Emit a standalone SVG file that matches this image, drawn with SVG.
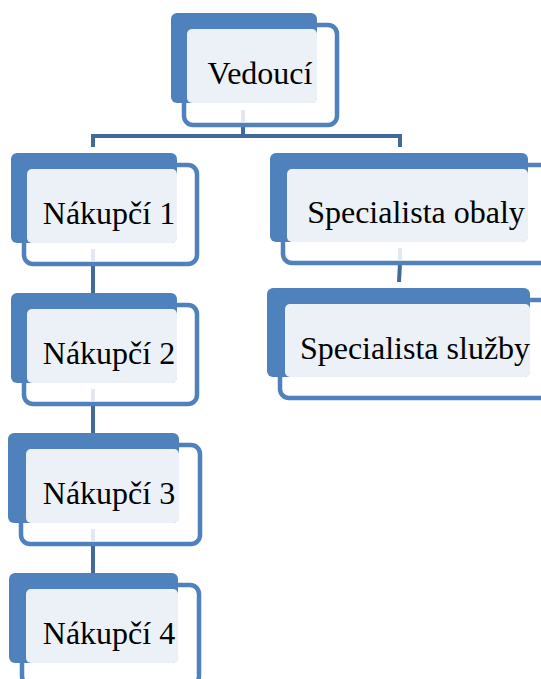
<svg xmlns="http://www.w3.org/2000/svg" width="541" height="679" viewBox="0 0 541 679">
<style>
.back{fill:#4F81BD}
.fill{fill:#ECF0F7}
.out{fill:none;stroke:#4F81BD;stroke-width:4.5}
.ghost{stroke:#E2E7F0;stroke-width:4}
.conn{fill:none;stroke:#41699B;stroke-width:4;stroke-linecap:butt}
text{font-family:"Liberation Serif","Times New Roman",serif;font-size:32px;fill:#000;text-anchor:middle}
</style>
<rect width="541" height="679" fill="#fff"/>
<g id="connectors">
<path class="conn" d="M243,125 V136 M91,136 H402 M93,134 V147 M400,134 V147"/>
<path class="conn" d="M93,264 V293 M93,404 V433 M93,544 V573"/>
<path class="conn" d="M400,263 L399,282"/>
</g>
<g id="vedouci">
<rect class="back" x="171" y="13" width="146" height="90" rx="6"/>
<rect class="fill" x="187" y="29" width="130" height="74" rx="5"/>
<line class="ghost" x1="243" y1="110" x2="243" y2="122"/>
<rect class="out" x="184" y="25" width="153" height="100" rx="9"/>
<text x="260" y="84">Vedoucí</text>
</g>
<g id="nakupci1">
<rect class="back" x="11" y="153" width="166" height="90" rx="6"/>
<rect class="fill" x="27" y="169" width="150" height="74" rx="5"/>
<line class="ghost" x1="93" y1="249" x2="93" y2="261"/>
<rect class="out" x="24" y="165" width="173" height="99" rx="9"/>
<text x="109" y="224">Nákupčí 1</text>
</g>
<g id="nakupci2">
<rect class="back" x="11" y="293" width="166" height="90" rx="6"/>
<rect class="fill" x="27" y="309" width="150" height="74" rx="5"/>
<line class="ghost" x1="93" y1="389" x2="93" y2="401"/>
<rect class="out" x="24" y="305" width="173" height="99" rx="9"/>
<text x="109" y="364">Nákupčí 2</text>
</g>
<g id="nakupci3">
<rect class="back" x="8" y="433" width="171" height="90" rx="6"/>
<rect class="fill" x="26" y="449" width="153" height="74" rx="5"/>
<line class="ghost" x1="93" y1="529" x2="93" y2="541"/>
<rect class="out" x="21" y="445" width="179" height="99" rx="9"/>
<text x="109" y="504">Nákupčí 3</text>
</g>
<g id="nakupci4">
<rect class="back" x="9" y="573" width="169" height="90" rx="6"/>
<rect class="fill" x="26" y="589" width="152" height="74" rx="5"/>
<rect class="out" x="22" y="585" width="177" height="100" rx="9"/>
<text x="109" y="644">Nákupčí 4</text>
</g>
<g id="specialista-obaly">
<rect class="back" x="270" y="153" width="258" height="89" rx="6"/>
<rect class="fill" x="287" y="169" width="241" height="73" rx="5"/>
<line class="ghost" x1="400" y1="248" x2="400" y2="260"/>
<rect class="out" x="283" y="165" width="290" height="98" rx="9"/>
<text x="416" y="223">Specialista obaly</text>
</g>
<g id="specialista-sluzby">
<rect class="back" x="267" y="288" width="263" height="89" rx="6"/>
<rect class="fill" x="285" y="304" width="245" height="73" rx="5"/>
<rect class="out" x="280" y="300" width="290" height="98" rx="9"/>
<text x="415" y="359">Specialista služby</text>
</g>
</svg>
